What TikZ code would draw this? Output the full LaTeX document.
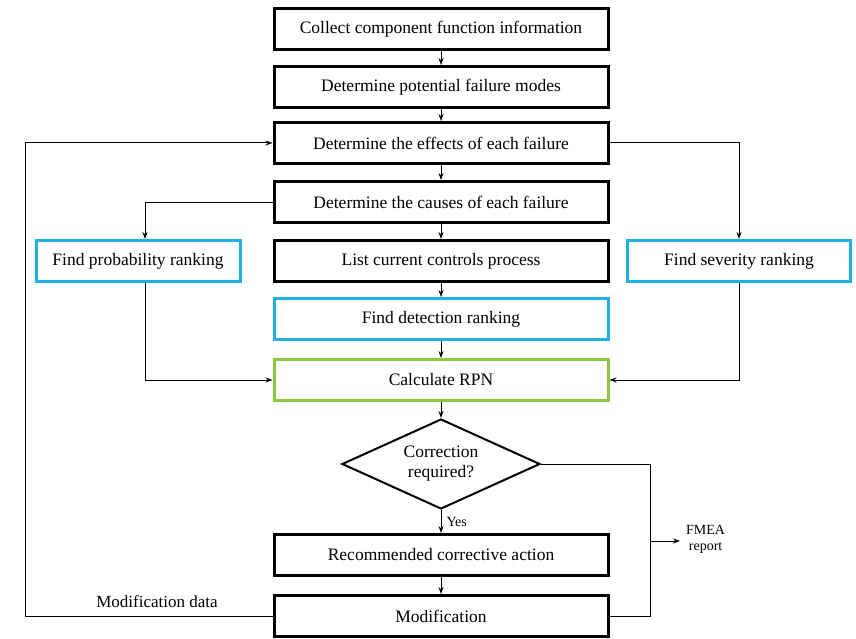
\documentclass[tikz,border=0pt]{standalone}
\usepackage{fontspec}
\setmainfont{Liberation Serif}
\usetikzlibrary{shapes.geometric,arrows.meta}
\definecolor{bluebox}{HTML}{1FB1E6}
\definecolor{greenbox}{HTML}{8DC63F}
\tikzset{
  box/.style={draw=black,line width=3pt,minimum height=41pt,inner sep=0pt,font=\fontsize{17.5}{20}\selectfont},
  bbox/.style={box,draw=bluebox},
  gbox/.style={box,draw=greenbox},
  conn/.style={line width=1pt,-{Stealth[length=7pt,width=5pt]}},
  line/.style={line width=1pt},
  lbl/.style={font=\fontsize{17}{19}\selectfont,inner sep=0pt},
  slbl/.style={font=\fontsize{14}{16}\selectfont,inner sep=0pt}
}
\begin{document}
\begin{tikzpicture}[x=1pt,y=-1pt]
\useasboundingbox (0,0) rectangle (856,639);
\node[box,minimum width=334pt] (c1) at (441,29) {Collect component function information};
\node[box,minimum width=334pt] (c2) at (441,87) {Determine potential failure modes};
\node[box,minimum width=334pt] (c3) at (441,143) {Determine the effects of each failure};
\node[box,minimum width=334pt] (c4) at (441,202) {Determine the causes of each failure};
\node[bbox,minimum width=204pt] (p) at (138,261) {Find probability ranking};
\node[box,minimum width=334pt] (c5) at (441,261) {List current controls process};
\node[bbox,minimum width=223pt] (s) at (739,261) {Find severity ranking};
\node[bbox,minimum width=334pt] (d) at (441,319) {Find detection ranking};
\node[gbox,minimum width=334pt] (r) at (441,380) {Calculate RPN};
\node[diamond,draw=black,line width=2pt,minimum width=198pt,minimum height=90pt,inner sep=0pt,aspect=2.2,align=center,font=\fontsize{17.5}{20}\selectfont] (q) at (441,464) {Correction\\required?};
\node[box,minimum width=334pt] (a) at (441,555) {Recommended corrective action};
\node[box,minimum width=334pt] (m) at (441,616) {Modification};

\draw[conn] (c1) -- (c2);
\draw[conn] (c2) -- (c3);
\draw[conn] (c3) -- (c4);
\draw[conn] (c4) -- (c5);
\draw[conn] (c5) -- (d);
\draw[conn] (d) -- (r);
\draw[conn] (r.south) -- (q.north);
\draw[conn] (q.south) -- node[slbl,right,xshift=5pt] {Yes} (a.north);
\draw[conn] (a) -- (m);

\coordinate (lx) at (25,0);
\draw[conn] (m.west) -- (m.west -| lx) -- (c3.west -| lx) -- (c3.west);
\node[lbl] (md) at (157,602) {Modification data};

\coordinate (rx) at (739,0);
\draw[conn] (c3.east) -- (c3.east -| rx) -- (s.north);
\coordinate (px) at (145,0);
\draw[conn] (c4.west) -- (c4.west -| px) -- (p.north -| px);
\draw[conn] (p.south -| px) -- (r.west -| px) -- (r.west);
\draw[conn] (s.south -| rx) -- (r.east -| rx) -- (r.east);

\coordinate (fx) at (650,0);
\draw[line] (q.east) -- (q.east -| fx) -- (m.east -| fx) -- (m.east);
\coordinate (fy) at (0,541);
\coordinate (fe) at (680,541);
\draw[conn] (fx |- fy) -- (fe);
\node[slbl,align=center,anchor=west] (fm) at (686,539) {FMEA\\report};
\end{tikzpicture}
\end{document}
